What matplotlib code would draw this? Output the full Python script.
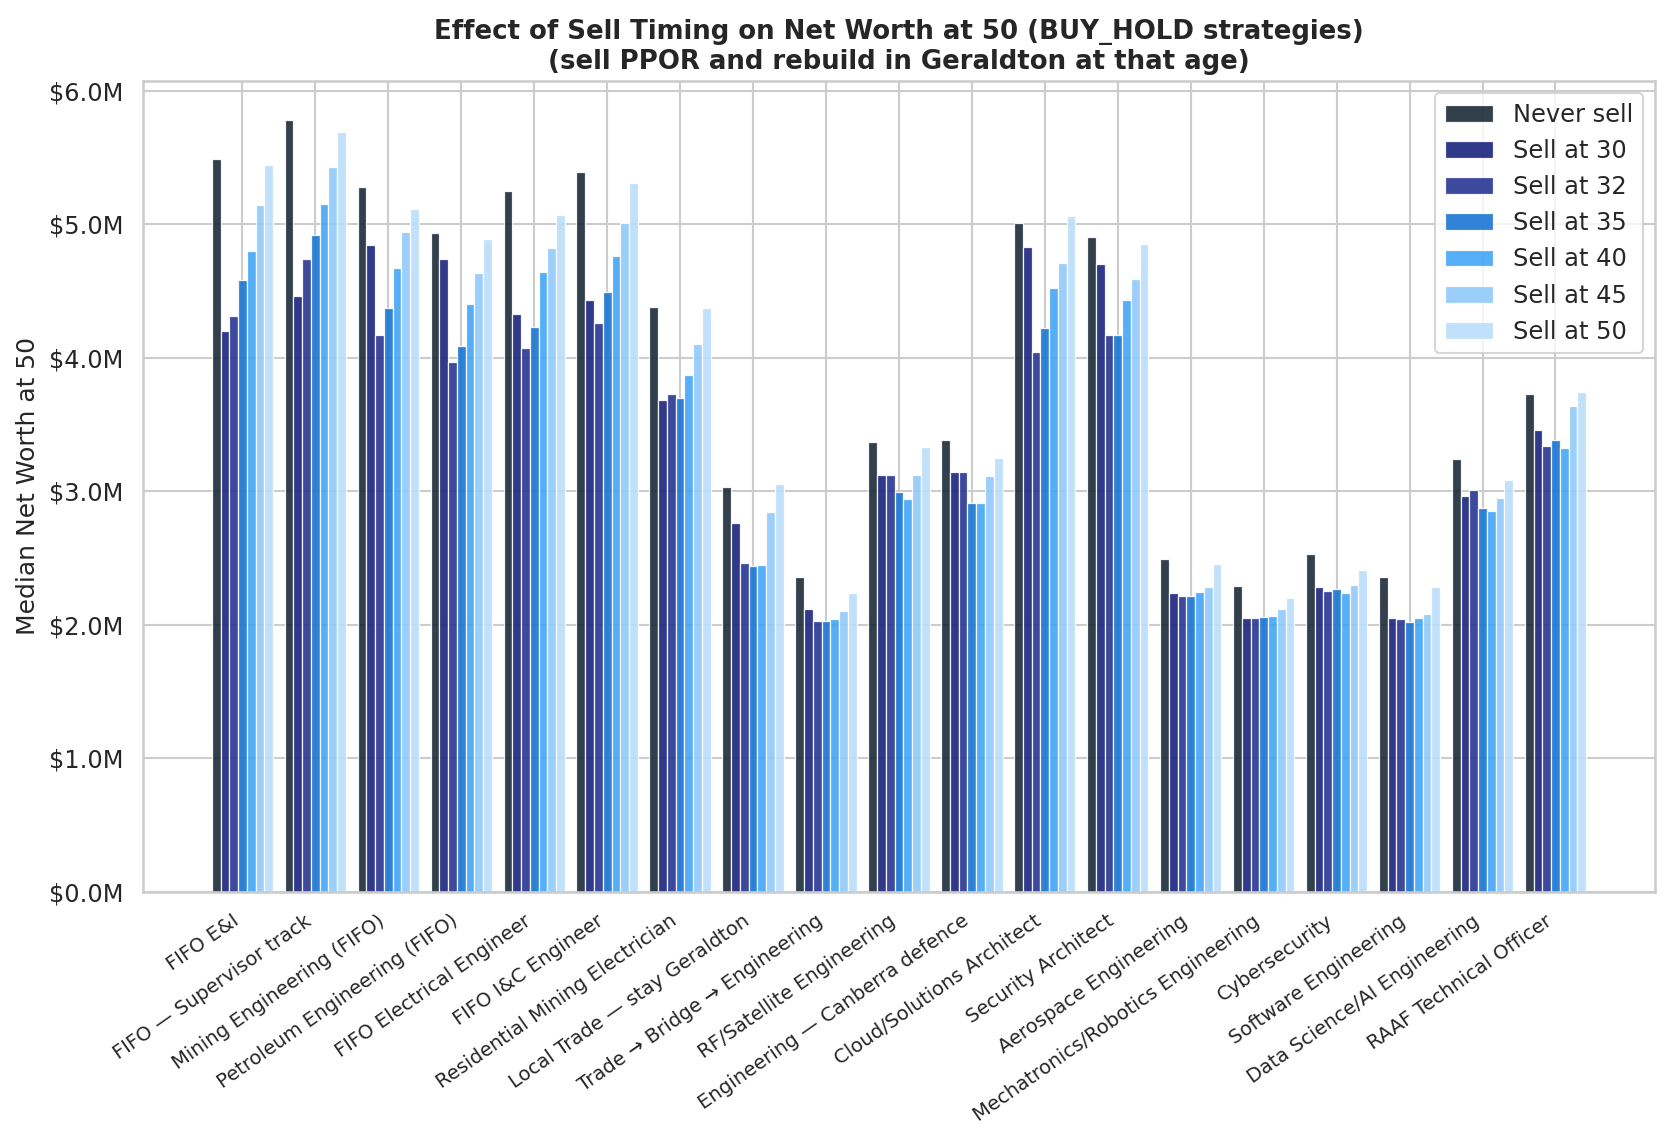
import numpy as np
import matplotlib
matplotlib.use('Agg')
import matplotlib.pyplot as plt
import seaborn as sns
from matplotlib.ticker import FuncFormatter

# Careers (x axis)
careers = [
    'FIFO E&I',
    'FIFO — Supervisor track',
    'Mining Engineering (FIFO)',
    'Petroleum Engineering (FIFO)',
    'FIFO Electrical Engineer',
    'FIFO I&C Engineer',
    'Residential Mining Electrician',
    'Local Trade — stay Geraldton',
    'Trade → Bridge → Engineering',
    'RF/Satellite Engineering',
    'Engineering — Canberra defence',
    'Cloud/Solutions Architect',
    'Security Architect',
    'Aerospace Engineering',
    'Mechatronics/Robotics Engineering',
    'Cybersecurity',
    'Software Engineering',
    'Data Science/AI Engineering',
    'RAAF Technical Officer',
]

# Median net worth at 50, in $M, one list per sell timing
never_sell = [5.49, 5.78, 5.28, 4.93, 5.25, 5.39, 4.38, 3.03, 2.36, 3.37,
              3.385, 5.01, 4.90, 2.49, 2.29, 2.53, 2.36, 3.24, 3.73]
sell_30 = [4.20, 4.46, 4.84, 4.74, 4.33, 4.43, 3.685, 2.76, 2.12, 3.12,
           3.14, 4.83, 4.70, 2.24, 2.05, 2.28, 2.05, 2.965, 3.46]
sell_32 = [4.31, 4.74, 4.17, 3.97, 4.075, 4.26, 3.73, 2.46, 2.03, 3.12,
           3.14, 4.04, 4.17, 2.215, 2.05, 2.25, 2.04, 3.01, 3.34]
sell_35 = [4.58, 4.92, 4.37, 4.09, 4.23, 4.49, 3.70, 2.44, 2.025, 2.99,
           2.91, 4.22, 4.17, 2.215, 2.06, 2.27, 2.02, 2.87, 3.385]
sell_40 = [4.80, 5.15, 4.67, 4.40, 4.64, 4.76, 3.87, 2.445, 2.04, 2.94,
           2.91, 4.52, 4.43, 2.245, 2.065, 2.24, 2.05, 2.85, 3.32]
sell_45 = [5.14, 5.43, 4.94, 4.63, 4.82, 5.01, 4.10, 2.84, 2.10, 3.12,
           3.115, 4.71, 4.585, 2.28, 2.12, 2.30, 2.08, 2.95, 3.64]
sell_50 = [5.44, 5.69, 5.11, 4.89, 5.07, 5.31, 4.37, 3.05, 2.24, 3.33,
           3.25, 5.06, 4.85, 2.45, 2.20, 2.41, 2.28, 3.085, 3.74]

series_labels = ['Never sell', 'Sell at 30', 'Sell at 32', 'Sell at 35',
                 'Sell at 40', 'Sell at 45', 'Sell at 50']
series_values = [never_sell, sell_30, sell_32, sell_35, sell_40, sell_45, sell_50]
colors = ['#1b2a38', '#1a237e', '#283593', '#1976d2',
          '#42a5f5', '#90caf9', '#bbdefb']

sns.set_theme(style='whitegrid')

fig, ax = plt.subplots(figsize=(1669 / 150, 1130 / 150), dpi=150)
fig.subplots_adjust(left=0.0857, right=0.9915, top=0.928, bottom=0.211)

x = np.arange(len(careers))
width = 0.12

# one set of bars per sell timing, shifted around the career tick
for i, (label, vals) in enumerate(zip(series_labels, series_values)):
    offset = (i - 3) * width
    ax.bar(x + offset, np.array(vals) * 1e6, width, label=label,
           color=colors[i], alpha=0.9, edgecolor='white', linewidth=0.6)

ax.yaxis.set_major_formatter(FuncFormatter(lambda v, p: '${:.1f}M'.format(v / 1e6)))
ax.set_xticks(x)
ax.set_xticklabels(careers, rotation=35, ha='right', fontsize=9.4)
ax.tick_params(axis='y', labelsize=11.5)
ax.set_ylabel('Median Net Worth at 50', fontsize=12)
ax.set_title('Effect of Sell Timing on Net Worth at 50 (BUY_HOLD strategies)\n'
             '(sell PPOR and rebuild in Geraldton at that age)',
             fontsize=12.5, fontweight='bold')
ax.legend(loc='upper right', fontsize=11.6)

plt.savefig('out.png', dpi=150)
